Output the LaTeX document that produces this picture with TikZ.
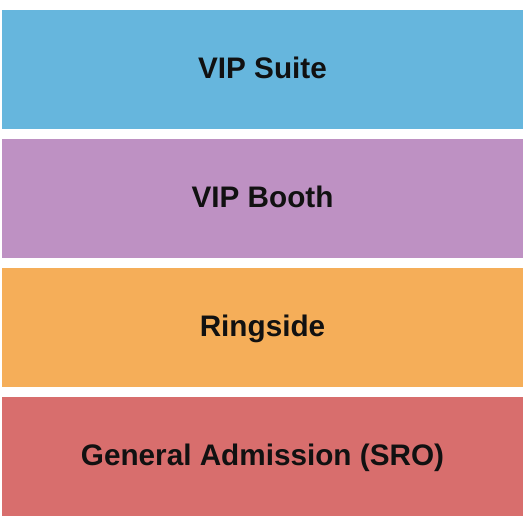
\documentclass[tikz,border=0pt]{standalone}
\usepackage{fontspec}
\setmainfont{Liberation Sans}
\usepackage{xcolor}
\usetikzlibrary{positioning}

\definecolor{suitecol}{HTML}{66B6DD}
\definecolor{boothcol}{HTML}{BE91C3}
\definecolor{ringcol}{HTML}{F5AE59}
\definecolor{gacol}{HTML}{D86E6D}
\definecolor{labelcol}{HTML}{111111}

\begin{document}
\begin{tikzpicture}[x=1pt,y=-1pt]
        \tikzstyle{section}=[rectangle,inner sep=0pt,minimum width=521pt,minimum height=118.5pt,
            text=labelcol,font=\fontsize{29.7}{32}\selectfont\bfseries,text height=21pt,text depth=3.5pt]

        \useasboundingbox (0,0) rectangle (525,525);

        \node[section,fill=suitecol] (suite) at (262.5,69.25) {VIP Suite};
        \node[section,fill=boothcol] (booth) at (262.5,198.25) {VIP Booth};
        \node[section,fill=ringcol] (ring) at (262.5,327.25) {Ringside};
        \node[section,fill=gacol] (ga) at (262.5,456.25) {General Admission (SRO)};
    \end{tikzpicture}
\end{document}
